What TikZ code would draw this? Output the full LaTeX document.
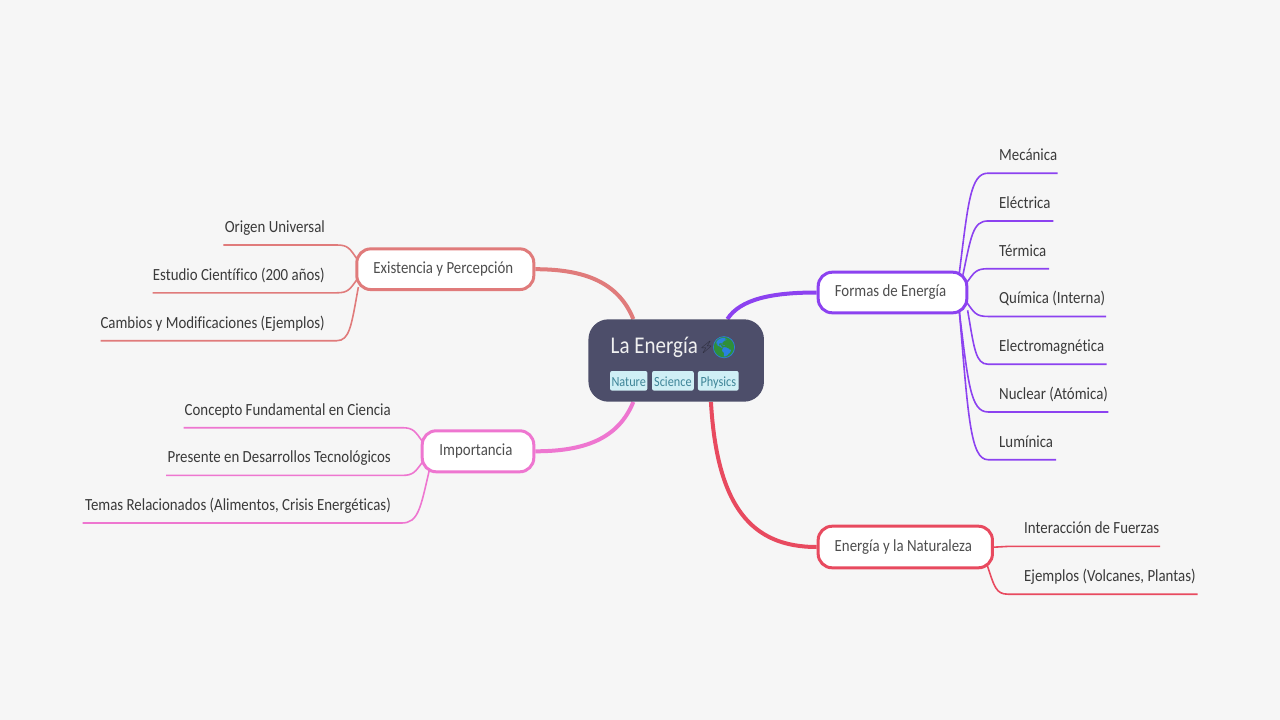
\documentclass[tikz,border=0pt]{standalone}
\usepackage{fontspec}
\setmainfont[FakeStretch=0.875,Ligatures=CommonOff]{Carlito}
\newfontfamily\emojifont{Noto Emoji}
\usetikzlibrary{calc,backgrounds}

\definecolor{paperC}{HTML}{F6F6F6}
\definecolor{rootC}{HTML}{4D4E6A}
\definecolor{tagC}{HTML}{CFEFF5}
\definecolor{tagtextC}{HTML}{3F8598}
\definecolor{inkC}{HTML}{3A3A3A}
\definecolor{existC}{HTML}{E07B7B}
\definecolor{formaC}{HTML}{8C42F0}
\definecolor{importC}{HTML}{EE76D0}
\definecolor{naturC}{HTML}{E84A5F}
\definecolor{globeC}{HTML}{2A80E0}
\definecolor{landC}{HTML}{2F8F3A}

\tikzset{
  branch/.style={draw,line width=3,fill=white,rounded corners=14,text=inkC!90,font=\fontsize{17}{20}\selectfont,
    text height=12,text depth=4,inner sep=0,execute at end node=\hspace{4pt}},
  leaf/.style={text=inkC,font=\fontsize{17}{20}\selectfont,inner sep=0},
  tag/.style={fill=tagC,rounded corners=2,text=tagtextC,font=\fontsize{14}{15}\selectfont,inner sep=0,text height=12,text depth=1,minimum height=19.6},
  trunk/.style={line width=4},
  twig/.style={line width=1.6,shorten <=-4pt},
  twigcurve/.style={to path={let \p1=(\tikztostart),\p2=(\tikztotarget) in
    .. controls (\x1+.3*\x2-.3*\x1,\y1+.7*\y2-.7*\y1) and (\x2-.62*\x2+.62*\x1,\y2) .. (\tikztotarget)}}
}

\begin{document}
\begin{tikzpicture}[x=1pt,y=-1pt]

\useasboundingbox (0,0) rectangle (1280,720);
\begin{scope}[on background layer]
\fill [paperC] (0,0) rectangle (1280,720);
\end{scope}

% the root and its tags
\node [fill=rootC,rounded corners=20,minimum width=175.5,minimum height=82.4,inner sep=0] (root) at (676.2,360.5) {};
\node [anchor=base west,text=white!94!black,font=\fontsize{24}{28}\selectfont,inner sep=0] (roottitle) at (610.5,353.4) {La Energía};
\node [anchor=center,text=black!50!rootC,font=\emojifont\fontsize{12}{16}\selectfont,inner sep=0] (rootbolt) at (706.5,347) {⚡};
\node [circle,fill=globeC,minimum size=22,inner sep=0] (rootglobe) at (724,347.2) {};
\node [text=landC,font=\emojifont\fontsize{20}{24}\selectfont,inner sep=0] (rootearth) at (rootglobe) {🌎};

\def\tags{Nature/628.7/37.3, Science/672.9/41.7, Physics/718.3/40.7}
\foreach \name/\xpos/\wide [count=\ni] in \tags
  \node [tag,minimum width=\wide] (tag\ni) at (\xpos,380.8) {\name};

% the four branches
\node [branch,draw=existC,minimum width=177,minimum height=40.7]  (exist) at (445.3,269.2) {Existencia y Percepción};
\node [branch,draw=importC,minimum width=111.6,minimum height=41] (import) at (478,451.3) {Importancia};
\node [branch,draw=formaC,minimum width=148.6,minimum height=40.6] (forma) at (892.5,292.5) {Formas de Energía};
\node [branch,draw=naturC,minimum width=174.3,minimum height=41.6] (natur) at (905.3,547) {Energía y la Naturaleza};

\begin{scope}[on background layer]
\draw [trunk,existC]  (exist.east)  .. controls +(49,0) and +(-15,-37) .. (root.136);
\draw [trunk,importC] (import.east) .. controls +(49,0) and +(-15,37) .. (root.224);
\draw [trunk,formaC]  (forma.west)  .. controls +(-45,0) and +(13,-20) .. (root.39);
\draw [trunk,naturC]  (natur.west)  .. controls +(-65,0) and +(6,105) .. (root.310);
\end{scope}

% right side leaves
\def\formaLeaves{Mecánica/1057.7/18.2, Eléctrica/1053.3/17.6, Térmica/1049/9.4, Química (Interna)/1106/-9.4,
  Electromagnética/1106.7/-16.5, Nuclear (Atómica)/1108.3/-18, Lumínica/1056/-18.6}
\foreach \name/\xend/\ang [count=\ni] in \formaLeaves
{
  \pgfmathsetmacro\ly{173.2+(\ni-1)*47.75}
  \coordinate (formaS\ni) at (988,\ly);
  \coordinate (formaE\ni) at (\xend,\ly);
  \node [leaf,anchor=base west] (forma\ni) at (999,\ly-12.6) {\name};
  \begin{scope}[on background layer]
  \draw [twig,formaC] (forma.\ang) to[twigcurve] (formaS\ni) -- (formaE\ni);
  \end{scope}
}

\def\naturLeaves{Interacción de Fuerzas/1160/546.4/0, {Ejemplos (Volcanes, Plantas)}/1197.7/594.2/-15.5}
\foreach \name/\xend/\ly/\ang [count=\ni] in \naturLeaves
{
  \coordinate (naturS\ni) at (1008,\ly);
  \coordinate (naturE\ni) at (\xend,\ly);
  \node [leaf,anchor=base west] (natur\ni) at (1024,\ly-12.6) {\name};
  \begin{scope}[on background layer]
  \draw [twig,naturC] (natur.\ang) to[twigcurve] (naturS\ni) -- (naturE\ni);
  \end{scope}
}

% left side leaves
\def\existLeaves{Origen Universal/223.3/245/172, Estudio Científico (200 años)/152.7/292.8/188, Cambios y Modificaciones (Ejemplos)/100.7/340.7/194.5}
\foreach \name/\xend/\ly/\ang [count=\ni] in \existLeaves
{
  \coordinate (existS\ni) at (336.7,\ly);
  \coordinate (existE\ni) at (\xend,\ly);
  \node [leaf,anchor=base east] (exist\ni) at (325,\ly-12.6) {\name};
  \begin{scope}[on background layer]
  \draw [twig,existC] (exist.\ang) to[twigcurve] (existS\ni) -- (existE\ni);
  \end{scope}
}

\def\importLeaves{Concepto Fundamental en Ciencia/183.7/427.7/168, Presente en Desarrollos Tecnológicos/166/475.4/193, {Temas Relacionados (Alimentos, Crisis Energéticas)}/82.7/523/204}
\foreach \name/\xend/\ly/\ang [count=\ni] in \importLeaves
{
  \coordinate (importS\ni) at (401.7,\ly);
  \coordinate (importE\ni) at (\xend,\ly);
  \node [leaf,anchor=base east] (import\ni) at (391,\ly-12.6) {\name};
  \begin{scope}[on background layer]
  \draw [twig,importC] (import.\ang) to[twigcurve] (importS\ni) -- (importE\ni);
  \end{scope}
}
\end{tikzpicture}
\end{document}
